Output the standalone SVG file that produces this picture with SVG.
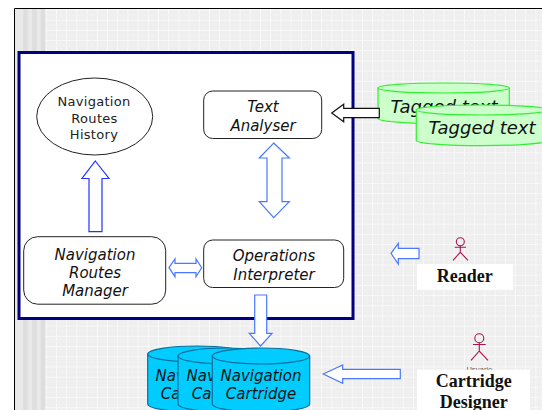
<svg xmlns="http://www.w3.org/2000/svg" width="542" height="410" viewBox="0 0 542 410">
<style>
.it{font-family:"DejaVu Sans",sans-serif;font-style:italic;font-size:15px;text-anchor:middle;fill:#111}
.tg{font-size:18px}
.rm{font-family:"DejaVu Sans",sans-serif;font-size:13px;letter-spacing:.3px;text-anchor:middle;fill:#222}
.se{font-family:"Liberation Serif",serif;font-weight:bold;font-size:18px;text-anchor:middle;fill:#111}
.box{fill:#fff;stroke:#222;stroke-width:1}
.ar{fill:#fff;stroke:#4a78ff;stroke-width:1.2}
.gc{fill:#ccffcc;stroke:#33ee33;stroke-width:1.2}
.bc{fill:#00ccff;stroke:#0a6f9c;stroke-width:1.2}
.ac{fill:none;stroke:#a8144c;stroke-width:1.1}
</style>
<defs>
<pattern id="p" width="10.2" height="10.2" patternUnits="userSpaceOnUse" x="5" y="9.500">
<rect width="10.2" height="10.2" fill="#eeeeee"/>
<path d="M0 .5H10.200M.5 0V10.200" stroke="#f9f9f9" stroke-width="1"/>
<path d="M0 5.500H10.200M5.500 0V10.200" stroke="#f2f2f2" stroke-width="1"/>
</pattern>
</defs>
<rect width="542" height="410" fill="#fff"/>
<g id="background">
<rect x="15" y="9" width="527" height="401" fill="url(#p)"/>
<rect x="15" y="9" width="30" height="401" fill="#e9e9e9"/>
<path d="M25.500 9V410M34.500 9V410M43 9V410" stroke="#dedede" stroke-width="4.500"/>
<path d="M14.500 410V8.500H542" fill="none" stroke="#000" stroke-width="1"/>
</g>
<g id="container"><rect x="19" y="52.500" width="334" height="266" fill="#fff" stroke="#000080" stroke-width="3"/></g>
<g id="history">
<ellipse cx="94.700" cy="116.500" rx="58" ry="38.500" fill="#fff" stroke="#222"/>
<text class="rm" x="94" y="106">Navigation</text><text class="rm" x="94.500" y="123">Routes</text><text class="rm" x="94" y="139">History</text>
</g>
<g id="text-analyser">
<rect class="box" x="203.700" y="91" width="118" height="47.500" rx="9"/>
<text class="it" x="263" y="112">Text</text><text class="it" x="263" y="130.500">Analyser</text>
</g>
<g id="manager">
<rect class="box" x="23.700" y="236.700" width="142" height="67.500" rx="14"/>
<text class="it" x="95" y="260">Navigation</text><text class="it" x="95" y="277.500">Routes</text><text class="it" x="95" y="295.500">Manager</text>
</g>
<g id="interpreter">
<rect class="box" x="203.700" y="240" width="140" height="47.500" rx="9"/>
<text class="it" x="274" y="260.500">Operations</text><text class="it" x="274" y="280">Interpreter</text>
</g>
<g id="tagged-back">
<path class="gc" d="M378 88V118.500A65.650 5.200 0 0 0 509.300 118.500V88Z"/><ellipse class="gc" cx="443.650" cy="88" rx="65.650" ry="5"/>
<text class="it tg" x="444" y="113">Tagged text</text>
</g>
<g id="tagged-front">
<path class="gc" d="M416.300 110V140.500A65.650 5.200 0 0 0 547.600 140.500V110Z"/><ellipse class="gc" cx="481.950" cy="110" rx="65.650" ry="5"/>
<text class="it tg" x="482" y="134">Tagged text</text>
</g>
<g id="cartridge-1">
<path class="bc" d="M147.700 354V404A49 8 0 0 0 245.700 404V354Z"/><ellipse class="bc" cx="196.700" cy="354" rx="49" ry="8"/>
<text class="it" x="196" y="381">Navigation</text><text class="it" x="196" y="399">Cartridge</text>
</g>
<g id="cartridge-2">
<path class="bc" d="M178 356V404A49 8 0 0 0 276 404V356Z"/><ellipse class="bc" cx="227" cy="356" rx="49" ry="8"/>
<text class="it" x="227" y="381">Navigation</text><text class="it" x="227" y="399">Cartridge</text>
</g>
<g id="cartridge-3">
<path class="bc" d="M212.300 356V404A48.700 8 0 0 0 309.700 404V356Z"/><ellipse class="bc" cx="261" cy="356" rx="48.700" ry="8"/>
<text class="it" x="261" y="381">Navigation</text><text class="it" x="261" y="399">Cartridge</text>
</g>
<g id="reader">
<g class="ac"><circle cx="460.300" cy="241.700" r="4"/><path d="M460.300 245.700V252.300M454.700 247.300H466M453 260.300L460.300 252.300L468 260.300"/></g>
<rect x="417" y="264" width="96" height="25.700" fill="#fff"/>
<text class="se" x="464.700" y="281.700">Reader</text>
</g>
<g id="designer">
<g class="ac"><circle cx="479.300" cy="338.300" r="4.500"/><path d="M479.300 342.800V351M473 344.500H485.700M471 360.300L479.300 351L488 360.300"/></g>
<text x="479.300" y="372" text-anchor="middle" style="font-family:'Liberation Sans',sans-serif;font-size:7.500px;fill:#555">Usuario</text>
<rect x="417" y="369.700" width="113" height="41" fill="#fff"/>
<text class="se" x="473.700" y="386.700">Cartridge</text><text class="se" x="473.700" y="407.700">Designer</text>
</g>
<g id="connectors">
<path class="ar" d="M95.300 161L109 178.500H102V231.700H89V178.500H82Z" style="stroke:#2233ff"/>
<path class="ar" d="M273.700 143L289.300 158H282V201.700H289.300L273.700 217.700L259.300 201.700H267V158H259.300Z"/>
<path class="ar" d="M169 267.700L175 259V263.300H196V259L201.700 267.700L196 276.700V272.700H175V276.700Z"/>
<path class="ar" d="M254.700 295H266.700V333.300H272L260.500 346L249.300 333.300H254.700Z"/>
<path d="M331.700 113L343.700 104.300V108.300H379.300V117.700H343.700V121.700Z" fill="#fff" stroke="#111" stroke-width="1.200"/>
<path class="ar" d="M391 253.300L398.300 243.300V248.300H419V258.700H398.300V264Z"/>
<path class="ar" d="M323.300 374L342.700 365V369.300H400.300V378.700H342.700V383.300Z"/>
</g>
</svg>
